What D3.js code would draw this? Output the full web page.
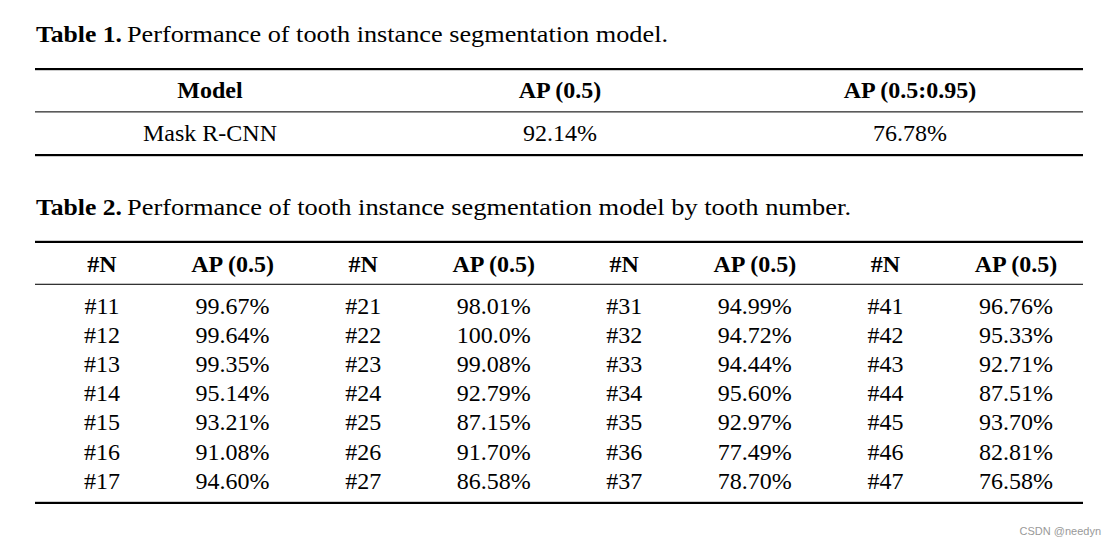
<!DOCTYPE html>
<html>
<head>
<meta charset="utf-8">
<script src="https://cdn.jsdelivr.net/npm/d3@7"></script>
<style>
  html, body { margin: 0; padding: 0; background: #fff; }
  svg { display: block; }
  text { font-family: "Liberation Serif", "DejaVu Serif", serif; fill: #000; }
</style>
</head>
<body>
<svg id="chart" width="1117" height="547"></svg>
<script>
// ---- Data ----
const table1Title = ["Table 1.", "Performance of tooth instance segmentation model."];
const table1Headers = ["Model", "AP (0.5)", "AP (0.5:0.95)"];
const table1Models = ["Mask R-CNN"];
const table1AP50 = ["92.14%"];
const table1AP5095 = ["76.78%"];

const table2Title = ["Table 2.", "Performance of tooth instance segmentation model by tooth number."];
const table2Headers = ["#N", "AP (0.5)", "#N", "AP (0.5)", "#N", "AP (0.5)", "#N", "AP (0.5)"];
const teeth1 = ["#11", "#12", "#13", "#14", "#15", "#16", "#17"];
const ap1 = ["99.67%", "99.64%", "99.35%", "95.14%", "93.21%", "91.08%", "94.60%"];
const teeth2 = ["#21", "#22", "#23", "#24", "#25", "#26", "#27"];
const ap2 = ["98.01%", "100.0%", "99.08%", "92.79%", "87.15%", "91.70%", "86.58%"];
const teeth3 = ["#31", "#32", "#33", "#34", "#35", "#36", "#37"];
const ap3 = ["94.99%", "94.72%", "94.44%", "95.60%", "92.97%", "77.49%", "78.70%"];
const teeth4 = ["#41", "#42", "#43", "#44", "#45", "#46", "#47"];
const ap4 = ["96.76%", "95.33%", "92.71%", "87.51%", "93.70%", "82.81%", "76.58%"];

const watermark = "CSDN @needyn";

// ---- Drawing ----
const svg = d3.select("#chart");
const left = 35, right = 1083;
const fs = 24;

function rule(y, h, color) {
  svg.append("rect").attr("x", left).attr("y", y).attr("width", right - left)
    .attr("height", h).attr("fill", color);
}

function title(parts, y, w1, x2, w2) {
  svg.append("text").attr("x", 36).attr("y", y).attr("font-size", 23)
    .attr("font-weight", "bold").attr("textLength", w1)
    .attr("lengthAdjust", "spacingAndGlyphs").text(parts[0]);
  svg.append("text").attr("x", x2).attr("y", y).attr("font-size", 23)
    .attr("textLength", w2).attr("lengthAdjust", "spacingAndGlyphs").text(parts[1]);
}

// Table 1
title(table1Title, 42, 86, 127, 541);
rule(68, 2.2, "#000");
rule(111.2, 1.3, "#333");
rule(154, 2.2, "#000");

const x1 = d3.scalePoint().domain(d3.range(3)).range([210, 910]);
svg.append("g").selectAll("text").data(table1Headers).join("text")
  .attr("x", (d, i) => x1(i)).attr("y", 98).attr("text-anchor", "middle")
  .attr("font-size", fs).attr("font-weight", "bold").text(d => d);

const t1cols = [table1Models, table1AP50, table1AP5095];
const y1 = d3.scalePoint().domain(d3.range(table1Models.length)).range([141, 141]);
t1cols.forEach((col, ci) => {
  svg.append("g").selectAll("text").data(col).join("text")
    .attr("x", x1(ci)).attr("y", (d, i) => y1(i)).attr("text-anchor", "middle")
    .attr("font-size", fs).text(d => d);
});

// Table 2
title(table2Title, 215, 86, 127, 724);
rule(240.8, 2.2, "#000");
rule(283.7, 1.3, "#333");
rule(501.8, 2.2, "#000");

const x2 = d3.scalePoint().domain(d3.range(8)).range([102, 1016]);
svg.append("g").selectAll("text").data(table2Headers).join("text")
  .attr("x", (d, i) => x2(i)).attr("y", 272).attr("text-anchor", "middle")
  .attr("font-size", fs).attr("font-weight", "bold").text(d => d);

const t2cols = [teeth1, ap1, teeth2, ap2, teeth3, ap3, teeth4, ap4];
const y2 = d3.scalePoint().domain(d3.range(teeth1.length)).range([313.5, 488.7]);
t2cols.forEach((col, ci) => {
  svg.append("g").selectAll("text").data(col).join("text")
    .attr("x", x2(ci)).attr("y", (d, i) => y2(i)).attr("text-anchor", "middle")
    .attr("font-size", fs).text(d => d);
});

// Watermark
svg.append("text").attr("x", 1101).attr("y", 535).attr("text-anchor", "end")
  .style("font-family", "'Liberation Sans', Arial, sans-serif")
  .attr("font-size", 11).style("fill", "#999").text(watermark);
</script>
</body>
</html>
